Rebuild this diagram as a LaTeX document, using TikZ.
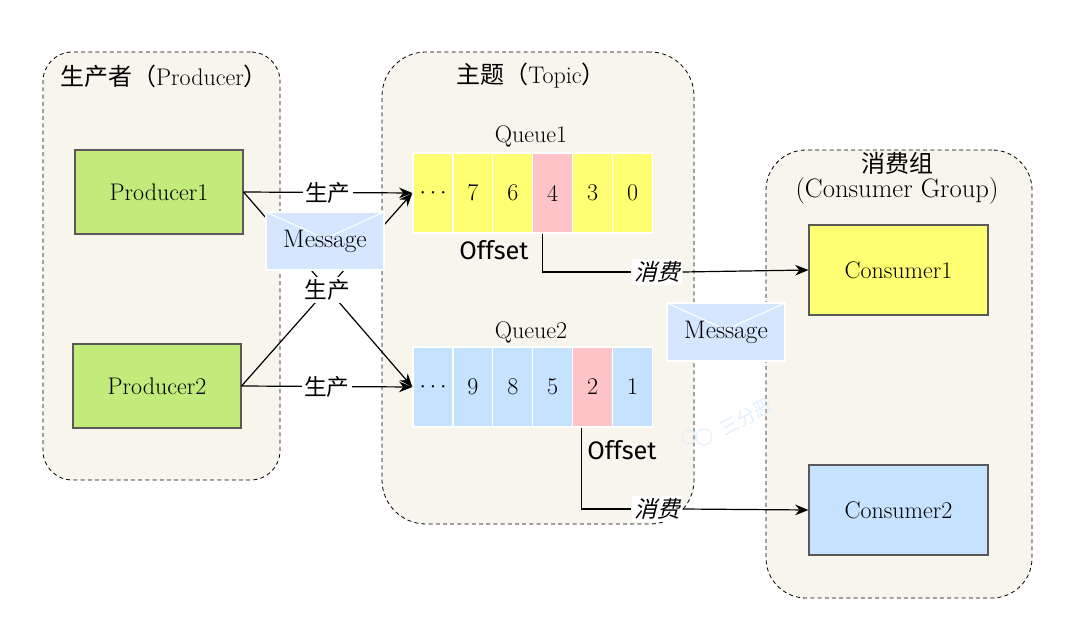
\documentclass[tikz,border=0pt]{standalone}
\usepackage{fontspec}
\newfontfamily\cjk{Noto Sans CJK SC}
\newfontfamily\cjkit[FakeSlant=0.25]{Noto Sans CJK SC}
\newfontfamily\offsetfont{Fira Sans}
\usetikzlibrary{arrows.meta}
\definecolor{groupbg}{HTML}{F8F6EC}
\definecolor{prodgreen}{HTML}{C2EB7C}
\definecolor{cellyellow}{HTML}{FFFF73}
\definecolor{cellblue}{HTML}{C5E2FF}
\definecolor{cellpink}{HTML}{FFC4C8}
\definecolor{msgblue}{HTML}{D6E6FF}
\tikzset{
  groupbox/.style={draw=black,dash pattern=on 3pt off 2.4pt,fill=groupbg,rounded corners=#1,inner sep=0pt,line width=0.6pt},
  clientbox/.style={draw=black!65,line width=0.8pt,inner sep=0pt,font=\fontsize{18}{20}\selectfont},
  cell/.style={draw=white,line width=1pt,inner sep=0pt,minimum width=30pt,minimum height=60pt,font=\fontsize{18}{20}\selectfont},
  envelope/.style={draw=white,line width=1pt,fill=msgblue,inner sep=0pt,minimum width=88.5pt,minimum height=43.5pt,
    font=\fontsize{19}{21}\selectfont,
    path picture={\draw[white,line width=0.8pt] (path picture bounding box.north west)
      -- ([yshift=-20pt]path picture bounding box.north) -- (path picture bounding box.north east);}},
  title/.style={inner sep=0pt,font=\fontsize{18}{20}\selectfont},
  makelabel/.style={fill=white,inner sep=2pt,font=\cjk\fontsize{17}{19}\selectfont},
  uselabel/.style={fill=white,inner sep=2pt,font=\cjkit\fontsize{17}{19}\selectfont},
  offsetlabel/.style={inner sep=0pt,font=\offsetfont\fontsize{19}{21}\selectfont},
  flow/.style={-{Stealth[length=10pt,width=8pt]},line width=0.9pt}
}
\begin{document}
\begin{tikzpicture}[x=0.75pt,y=-0.75pt]
\useasboundingbox (0,0) rectangle (1080,623);

% Groups
\node[groupbox=22pt,minimum width=177.75pt,minimum height=321pt] (producers) at (161.5,266) {};
\node[groupbox=33pt,minimum width=234pt,minimum height=354pt] (topic) at (538,288) {};
\node[groupbox=30pt,minimum width=199.5pt,minimum height=336pt] (consumers) at (899,374) {};
\node[title] (producerstitle) at (164,76) {{\cjk 生产者（}Producer{\cjk ）}};
\node[title] (topictitle) at (531,76) {{\cjk 主题（}Topic{\cjk ）}};
\node[title] (consumerstitle) at (897,163) {\cjk 消费组};
\node[title,font=\fontsize{20}{22}\selectfont] (consumersub) at (897,191) {(Consumer Group)};

% Producers and consumers
\node[clientbox,fill=prodgreen,minimum width=126pt,minimum height=63pt] (producer1) at (159,192) {Producer1};
\node[clientbox,fill=prodgreen,minimum width=126pt,minimum height=63pt] (producer2) at (157,386) {Producer2};
\node[clientbox,fill=cellyellow,minimum width=134.25pt,minimum height=67.5pt] (consumer1) at (898.5,270) {Consumer1};
\node[clientbox,fill=cellblue,minimum width=134.25pt,minimum height=67.5pt] (consumer2) at (898.5,510) {Consumer2};

% Queues
\node[title] (queue1) at (531,136) {Queue1};
\node[title] (queue2) at (531,332) {Queue2};
\foreach \i/\val/\col in {1/$\cdots$/cellyellow,2/7/cellyellow,3/6/cellyellow,4/4/cellpink,5/3/cellyellow,6/0/cellyellow}
  \node[cell,fill=\col] (q1c\i) at (393.1+39.9*\i,193) {\val};
\foreach \i/\val/\col in {1/$\cdots$/cellblue,2/9/cellblue,3/8/cellblue,4/5/cellblue,5/2/cellpink,6/1/cellblue}
  \node[cell,fill=\col] (q2c\i) at (393.1+39.9*\i,387) {\val};
\node[offsetlabel] (offset1) at (494,250) {Offset};
\node[offsetlabel] (offset2) at (622,450) {Offset};

% Watermark
\node[rotate=28,text=cellblue!55,inner sep=0pt,font=\cjk\fontsize{14}{16}\selectfont] (mark) at (746,417) {三分恶};
\draw[cellblue!55,line width=0.7pt] (689,437) circle (7) (704,437) circle (8);

% Produce
\draw[flow] (producer1.east) -- (q1c1.west) node[makelabel,midway] (make1) {生产};
\draw[flow] (producer2.east) -- (q2c1.west) node[makelabel,midway] (make2) {生产};
\draw[flow] (producer1.east) -- (q2c1.west);
\draw[flow] (producer2.east) -- (q1c1.west);
\node[makelabel] (make3) at (327,290) {生产};

% Consume
\node[uselabel] (use1) at (657,272) {消费};
\node[uselabel] (use2) at (657,509) {消费};
\draw[line width=0.9pt] ([xshift=-7.5pt]q1c4.south) |- (use1.west);
\draw[flow] (use1.east) -- (consumer1.west);
\draw[line width=0.9pt] ([xshift=-8.5pt]q2c5.south) |- (use2.west);
\draw[flow] (use2.east) -- (consumer2.west);

% Messages
\node[envelope] (message1) at (325,241) {Message};
\node[envelope] (message2) at (726,332) {Message};
\end{tikzpicture}
\end{document}
